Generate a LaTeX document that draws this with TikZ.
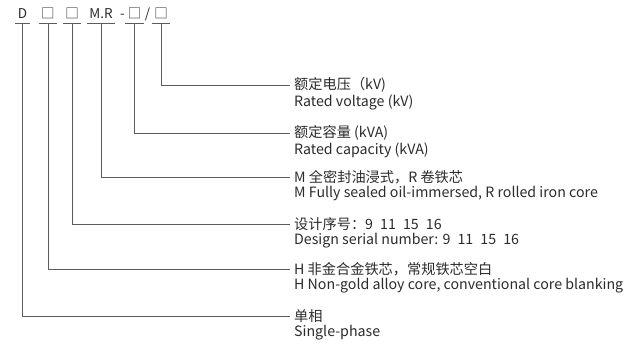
\documentclass[tikz,border=0pt]{standalone}
\usepackage{fontspec}
\setmainfont{Noto Sans CJK SC}
\usetikzlibrary{positioning}
\definecolor{linegray}{HTML}{5C5C5C}
\definecolor{textgray}{HTML}{2B2B2B}

\begin{document}
\begin{tikzpicture}[x=1pt,y=1pt,
    code/.style={text=textgray, font=\fontsize{13.5}{14}\selectfont,
      text height=9pt, text depth=0pt, inner xsep=2.5pt, inner ysep=4pt},
    desc/.style={anchor=west, text=textgray, font=\fontsize{14.2}{16}\selectfont,
      inner xsep=4pt, inner ysep=0pt},
    lead/.style={linegray, line width=0.8pt}]
  \useasboundingbox (0,0) rectangle (627,-344);

  % Parametry
  \def\ytop{-14.5}   % řádek s typovým označením
  \def\xtxt{290}     % kde končí vodorovné čáry
  \def\gap{17}       % odsazení anglického řádku

  % Typové označení
  \node[code] (cD)   at (22.5,\ytop) {D};
  \node[code] (cH)   at (48,\ytop)  {□};
  \node[code] (cS)   at (72,\ytop)  {□};
  \node[code] (cMR)  at (101,\ytop) {M.R};
  \node[code] (cDash) at (122.5,\ytop) {-};
  \node[code] (cKVA) at (134.5,\ytop) {□};
  \node[code] (cSl)  at (147.5,\ytop) {/};
  \node[code] (cKV)  at (161,\ytop) {□};
  % Podtržení
  \draw[lead] (cD.south west) -- (cD.south east);
  \draw[lead] (cH.south west) -- (cH.south east);
  \draw[lead] (cS.south west) -- (cS.south east);
  \draw[lead] (cMR.south west) -- (cMR.south east);
  \draw[lead] (cKVA.south west) -- (cKVA.south east);
  \draw[lead] (cKV.south west) -- (cKV.south east);

  % Popisky
  \node[desc] (tKV)  at (\xtxt,-85)  {额定电压（kV)};
  \node[desc] (tKVen) at ([yshift=-\gap]tKV.west) {Rated voltage (kV)};
  \node[desc] (tKVA) at (\xtxt,-133) {额定容量 (kVA)};
  \node[desc] (tKVAen) at ([yshift=-\gap]tKVA.west) {Rated capacity (kVA)};
  \node[desc] (tMR)  at (\xtxt,-177) {M 全密封油浸式，R 卷铁芯};
  \node[desc] (tMRen) at ([yshift=-\gap]tMR.west) {M Fully sealed oil-immersed, R rolled iron core};
  \node[desc] (tS)   at (\xtxt,-224) {设计序号：9\enspace 11\enspace 15\enspace 16};
  \node[desc] (tSen) at ([yshift=-\gap]tS.west) {Design serial number: 9\enspace 11\enspace 15\enspace 16};
  \node[desc] (tH)   at (\xtxt,-269) {H 非金合金铁芯，常规铁芯空白};
  \node[desc] (tHen) at ([yshift=-\gap]tH.west) {H Non-gold alloy core, conventional core blanking};
  \node[desc] (tD)   at (\xtxt,-316) {单相};
  \node[desc] (tDen) at ([yshift=-\gap]tD.west) {Single-phase};

  % Spojnice
  \draw[lead] (cKV.south) |- (tKV.west);
  \draw[lead] (cKVA.south) |- (tKVA.west);
  \draw[lead] (cMR.south) |- (tMR.west);
  \draw[lead] (cS.south) |- (tS.west);
  \draw[lead] (cH.south) |- (tH.west);
  \draw[lead] (cD.south) |- (tD.west);
\end{tikzpicture}
\end{document}
